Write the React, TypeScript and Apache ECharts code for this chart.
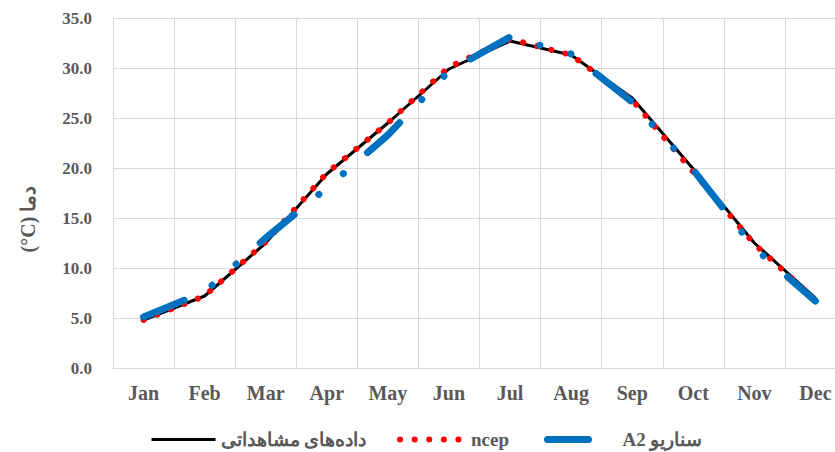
import React, { useEffect, useRef } from "react";
import * as echarts from "echarts";

const months = ["Jan", "Feb", "Mar", "Apr", "May", "Jun", "Jul", "Aug", "Sep", "Oct", "Nov", "Dec"];
const observed = [4.8, 7.2, 12.5, 19.4, 24.5, 29.9, 32.7, 31.3, 27.0, 19.9, 12.5, 7.0];
const ncep = [4.8, 7.2, 12.6, 19.5, 24.5, 30.1, 32.9, 31.3, 26.8, 19.6, 12.4, 6.8];
const a2 = [5.1, 7.6, 13.0, 18.0, 23.3, 29.7, 33.1, 31.4, 26.6, 19.8, 12.0, 6.7];

const obsName = "داده‌های مشاهداتی";
const ncepName = "ncep";
const a2Name = "A2 سناریو";
const yName = "(°C) دما";

const FONT = '"Liberation Serif", "Times New Roman", serif';
const TXT = "#595959";
const GRID = "#d9d9d9";

export default function App() {
  const ref = useRef<HTMLDivElement>(null);
  useEffect(() => {
    document.body.style.margin = "0";
    const chart = echarts.init(ref.current!, null, { renderer: "svg" });
    const base = { color: TXT, fontWeight: "bold", fontFamily: FONT };
    const legendBase = {
      top: 430,
      padding: 0,
      itemHeight: 14,
      selectedMode: false,
      textStyle: { ...base, fontSize: 19 },
      orient: "horizontal",
    };
    chart.setOption({
      animation: false,
      grid: { left: 113, top: 18, right: 0, height: 350 },
      xAxis: {
        type: "category",
        data: months,
        boundaryGap: true,
        axisLine: { lineStyle: { color: GRID, width: 1 } },
        axisTick: { show: false },
        axisLabel: { ...base, fontSize: 20, margin: 15 },
        splitLine: { show: true, lineStyle: { color: GRID, width: 1 } },
      },
      yAxis: {
        type: "value",
        min: 0,
        max: 35,
        interval: 5,
        axisLine: { show: false },
        axisTick: { show: false },
        axisLabel: { ...base, fontSize: 17, margin: 21, formatter: (v: number) => v.toFixed(1) },
        splitLine: { show: true, lineStyle: { color: GRID, width: 1 } },
      },
      legend: [
        {
          ...legendBase,
          left: 150,
          itemWidth: 64,
          data: [{ name: obsName, lineStyle: { width: 3, type: "solid", color: "#000" }, itemStyle: { opacity: 0 } }],
        },
        {
          ...legendBase,
          left: 397,
          itemWidth: 66,
          data: [
            {
              name: ncepName,
              lineStyle: { width: 6, type: [0.1, 14.5], cap: "round", color: "#ff0000" },
              itemStyle: { opacity: 0 },
            },
          ],
        },
        {
          ...legendBase,
          left: 544,
          itemWidth: 70,
          data: [
            {
              name: a2Name,
              lineStyle: { width: 7, type: [41, 60], cap: "round", color: "#0070c0" },
              itemStyle: { opacity: 0 },
            },
          ],
        },
      ],
      graphic: [
        {
          type: "text",
          x: 28,
          y: 219,
          rotation: Math.PI / 2,
          style: {
            text: yName,
            font: `bold 20px ${FONT}`,
            fill: TXT,
            align: "center",
            verticalAlign: "middle",
            textAlign: "center",
            textVerticalAlign: "middle",
          },
        },
      ],
      series: [
        {
          name: obsName,
          type: "line",
          data: observed,
          symbol: "none",
          lineStyle: { color: "#000000", width: 3 },
          itemStyle: { color: "#000000" },
        },
        {
          name: ncepName,
          type: "line",
          data: ncep,
          symbol: "none",
          lineStyle: { color: "#ff0000", width: 6, type: [0.1, 14.5], cap: "round" },
          itemStyle: { color: "#ff0000" },
        },
        {
          name: a2Name,
          type: "line",
          data: a2,
          symbol: "none",
          lineStyle: { color: "#0070c0", width: 7, type: [44, 32, 0.1, 32, 0.1, 32], cap: "round" },
          itemStyle: { color: "#0070c0" },
        },
      ],
    });
    return () => chart.dispose();
  }, []);
  return (
    <div style={{ width: 835, height: 452, overflow: "hidden", position: "relative" }}>
      <div ref={ref} style={{ width: 846, height: 452 }} />
    </div>
  );
}
